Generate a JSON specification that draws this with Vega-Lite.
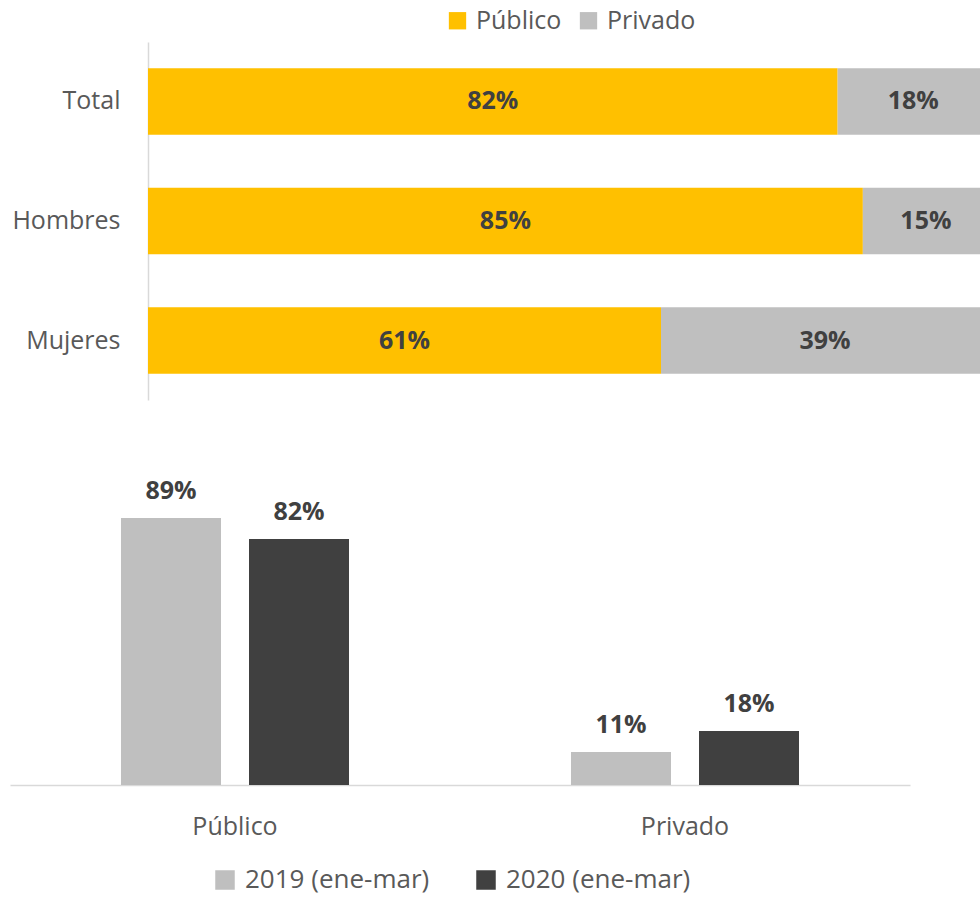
{
  "$schema": "https://vega.github.io/schema/vega-lite/v6.json",
  "padding": {"left": 10, "top": 8, "right": 0, "bottom": 10},
  "background": "white",
  "spacing": 70,
  "config": {
    "view": {"stroke": null},
    "font": "Open Sans",
    "text": {"font": "Open Sans"}
  },
  "vconcat": [
    {
      "width": 970,
      "height": 358,
      "data": {"values": [
        {"grupo": "Total", "sector": "Público", "orden": 1, "valor": 0.82},
        {"grupo": "Total", "sector": "Privado", "orden": 2, "valor": 0.18},
        {"grupo": "Hombres", "sector": "Público", "orden": 1, "valor": 0.85},
        {"grupo": "Hombres", "sector": "Privado", "orden": 2, "valor": 0.15},
        {"grupo": "Mujeres", "sector": "Público", "orden": 1, "valor": 0.61},
        {"grupo": "Mujeres", "sector": "Privado", "orden": 2, "valor": 0.39}
      ]},
      "transform": [
        {"stack": "valor", "groupby": ["grupo"], "sort": [{"field": "orden"}], "as": ["v0", "v1"]}
      ],
      "encoding": {
        "y": {
          "field": "grupo", "type": "nominal", "sort": ["Total", "Hombres", "Mujeres"],
          "scale": {"paddingInner": 0.445, "paddingOuter": 0.22},
          "axis": {"title": null, "domainColor": "#D9D9D9", "domainWidth": 1.5, "ticks": false,
                   "offset": -138, "labelPadding": 28, "labelFontSize": 25, "labelColor": "#595959",
                   "labelFont": "Open Sans"}
        }
      },
      "layer": [
        {
          "mark": {"type": "bar", "clip": true},
          "encoding": {
            "x": {"field": "v0", "type": "quantitative",
                  "scale": {"domain": [-0.16409, 0.9893], "zero": false, "nice": false}, "axis": null},
            "x2": {"field": "v1"},
            "color": {
              "field": "sector", "type": "nominal",
              "scale": {"domain": ["Público", "Privado"], "range": ["#FFC000", "#BFBFBF"]},
              "legend": {"orient": "none", "legendX": 435, "legendY": -34, "title": null, "direction": "horizontal",
                         "labelFontSize": 25, "labelColor": "#595959", "labelFont": "Open Sans", "labelLimit": 300,
                         "symbolType": "square", "symbolSize": 300, "symbolStrokeWidth": 0,
                         "columnPadding": 14, "labelOffset": 6}
            }
          }
        },
        {
          "transform": [{"fold": ["v0", "v1"], "as": ["k", "pos"]}],
          "mark": {"type": "text", "fontSize": 25, "fontWeight": "bold", "color": "#404040", "font": "Open Sans"},
          "encoding": {
            "x": {"field": "pos", "aggregate": "mean", "type": "quantitative",
                  "scale": {"domain": [-0.16409, 0.9893], "zero": false, "nice": false}},
            "text": {"field": "valor", "type": "quantitative", "format": ".0%"}
          }
        }
      ]
    },
    {
      "width": 900,
      "height": 315,
      "data": {"values": [
        {"sector": "Público", "anio": "2019 (ene-mar)", "valor": 0.89},
        {"sector": "Público", "anio": "2020 (ene-mar)", "valor": 0.82},
        {"sector": "Privado", "anio": "2019 (ene-mar)", "valor": 0.11},
        {"sector": "Privado", "anio": "2020 (ene-mar)", "valor": 0.18}
      ]},
      "encoding": {
        "x": {
          "field": "sector", "type": "nominal", "sort": ["Público", "Privado"],
          "scale": {"paddingInner": 0, "paddingOuter": 0},
          "axis": {"title": null, "domainColor": "#D9D9D9", "domainWidth": 1.5, "ticks": false,
                   "labelAngle": 0, "labelPadding": 29, "labelFontSize": 25, "labelColor": "#595959",
                   "labelFont": "Open Sans"}
        },
        "xOffset": {
          "field": "anio", "type": "nominal",
          "scale": {"paddingInner": 0.21875, "paddingOuter": 0.867}
        },
        "y": {"field": "valor", "type": "quantitative", "scale": {"domain": [0, 1.05]}, "axis": null}
      },
      "layer": [
        {
          "mark": {"type": "bar"},
          "encoding": {
            "color": {
              "field": "anio", "type": "nominal",
              "scale": {"domain": ["2019 (ene-mar)", "2020 (ene-mar)"], "range": ["#BFBFBF", "#404040"]},
              "legend": {"orient": "none", "legendX": 202, "legendY": 397, "title": null, "direction": "horizontal",
                         "labelFontSize": 26, "labelColor": "#595959", "labelFont": "Open Sans", "labelLimit": 300,
                         "symbolType": "square", "symbolSize": 380, "symbolStrokeWidth": 0,
                         "columnPadding": 43, "labelOffset": 7}
            }
          }
        },
        {
          "mark": {"type": "text", "fontSize": 25, "fontWeight": "bold", "color": "#404040",
                   "baseline": "bottom", "dy": -14, "font": "Open Sans"},
          "encoding": {
            "text": {"field": "valor", "type": "quantitative", "format": ".0%"}
          }
        }
      ]
    }
  ],
  "resolve": {"scale": {"color": "independent"}}
}
